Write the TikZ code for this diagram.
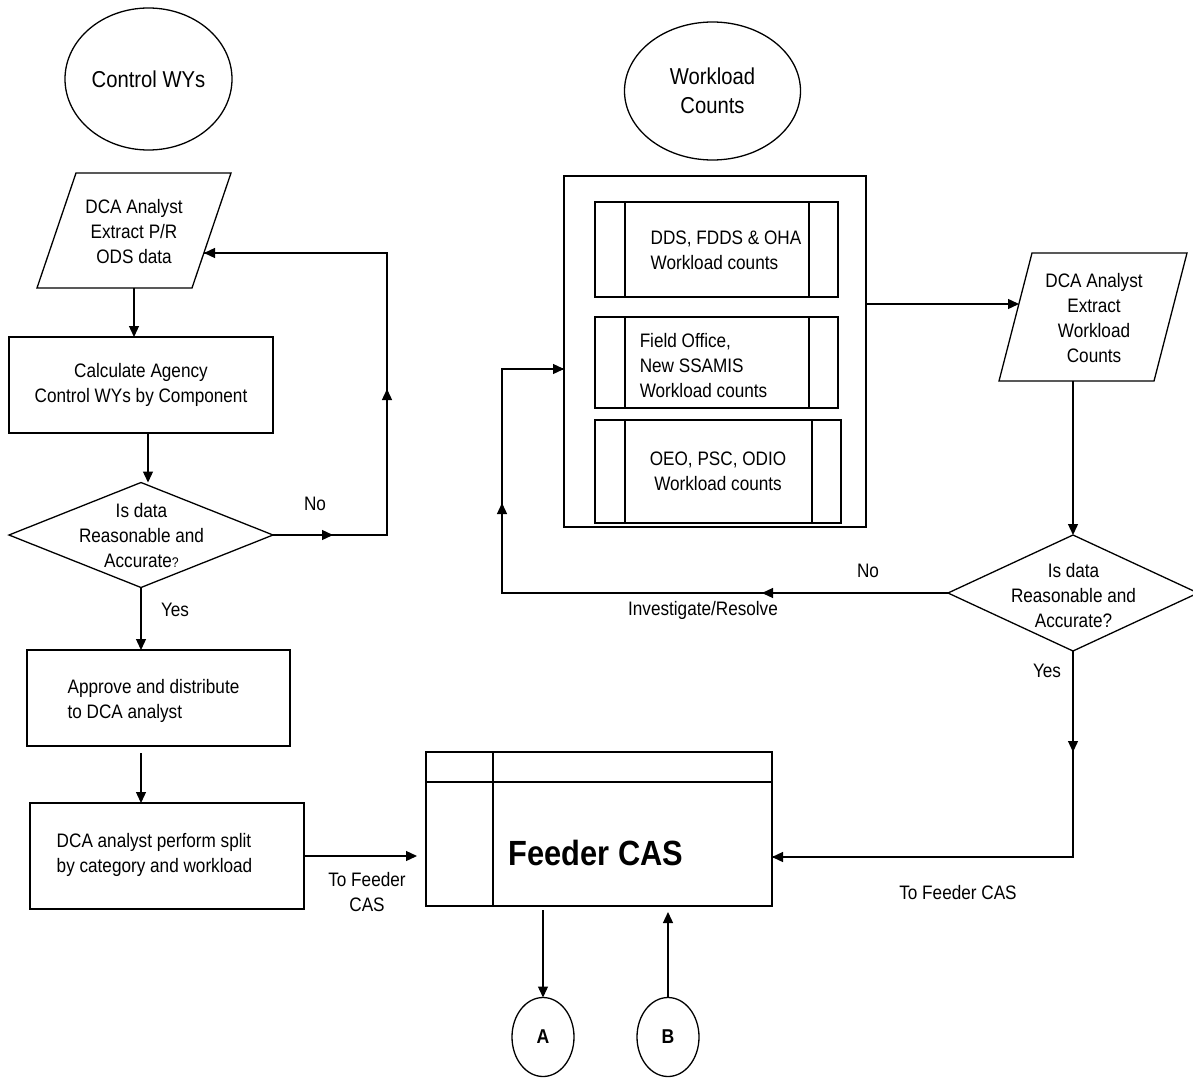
\documentclass[tikz,border=0pt]{standalone}
\usepackage{fontspec}
\setmainfont{Liberation Sans}[FakeStretch=0.88]
\usetikzlibrary{arrows.meta,shapes.geometric}
\begin{document}
\begin{tikzpicture}[x=1pt,y=-1pt,line width=1.3pt,
  font=\fontsize{19.5}{25}\selectfont,
  box/.style={draw, rectangle, inner sep=0, outer sep=0},
  oval/.style={draw, ellipse, inner sep=0, outer sep=0},
  dia/.style={draw, diamond, inner sep=0, outer sep=0},
  txt/.style={inner sep=0, align=center},
  txtl/.style={inner sep=0, align=left},
  arr/.style={-{Triangle[length=11pt,width=10pt]}},
]
\useasboundingbox (0,0) rectangle (1193,1078);

% ---------- left column ----------
\node[oval, minimum width=167, minimum height=142, font=\fontsize{23}{29}\selectfont] (cwy) at (148.5,79) {Control WYs};

\draw (76,173) -- (231,173) -- (192,288) -- (37,288) -- cycle;
\node[txt] (p1) at (134,232) {DCA Analyst\\Extract P/R\\ODS data};
\coordinate (p1s) at (134,288);
\coordinate (p1e) at (204,253);

\node[box, minimum width=264, minimum height=96, align=center] (r1) at (141,385) {Calculate Agency\\Control WYs by Component};

\node[dia, minimum width=264, minimum height=105] (d1) at (141,535) {};
\node[txt] (d1t) at (141.5,536) {Is data\\Reasonable and\\Accurate{\fontsize{14}{14}\selectfont ?}};

\node[box, minimum width=263, minimum height=96] (r2) at (158.5,698) {};
\node[txtl] (r2t) at (153.5,701) {Approve and distribute\\to DCA analyst};

\node[box, minimum width=274, minimum height=106] (r3) at (167,856) {};
\node[txtl] (r3t) at (154.5,854.5) {DCA analyst perform split\\by category and workload};

\node[txt] (yes1) at (175,610) {Yes};
\node[txt] (no1) at (315,504) {No};
\node[txt] (tf1) at (367,892) {To Feeder\\CAS};

% ---------- feeder ----------
\node[box, minimum width=346, minimum height=154] (fc) at (599,829) {};
\draw ([yshift=-30]fc.north west) -- ([yshift=-30]fc.north east);
\draw ([xshift=67]fc.north west) -- ([xshift=67]fc.south west);
\node[txt, font=\bfseries\fontsize{35}{40}\selectfont] (fct) at (596,853) {Feeder CAS};

\node[oval, minimum width=62, minimum height=79, font=\bfseries\fontsize{20}{24}\selectfont] (A) at (543,1037) {A};
\node[oval, minimum width=62, minimum height=79, font=\bfseries\fontsize{20}{24}\selectfont] (B) at (668,1037) {B};

% ---------- right column ----------
\node[oval, minimum width=176, minimum height=138, font=\fontsize{23}{29}\selectfont, align=center] (wlc) at (712.5,91) {Workload\\Counts};

\node[box, minimum width=302, minimum height=351] (wb) at (715,351.5) {};

\node[box, minimum width=243, minimum height=95] (b1) at (716.5,249.5) {};
\draw ([xshift=30]b1.north west) -- ([xshift=30]b1.south west);
\draw ([xshift=-29]b1.north east) -- ([xshift=-29]b1.south east);
\node[txtl] (b1t) at (726,250) {DDS, FDDS \& OHA\\Workload counts};

\node[box, minimum width=243, minimum height=91] (b2) at (716.5,362.5) {};
\draw ([xshift=30]b2.north west) -- ([xshift=30]b2.south west);
\draw ([xshift=-29]b2.north east) -- ([xshift=-29]b2.south east);
\node[txtl] (b2t) at (703.5,366) {Field Office,\\New SSAMIS\\Workload counts};

\node[box, minimum width=246, minimum height=103, align=center] (b3) at (718,471.5) {OEO, PSC, ODIO\\Workload counts};
\draw ([xshift=30]b3.north west) -- ([xshift=30]b3.south west);
\draw ([xshift=-29]b3.north east) -- ([xshift=-29]b3.south east);

\draw (1032,253) -- (1187,253) -- (1154,381) -- (999,381) -- cycle;
\node[txt] (p2) at (1094,318.5) {DCA Analyst\\Extract\\Workload\\Counts};
\coordinate (p2w) at (1019,304);
\coordinate (p2s) at (1073,381);

\node[dia, minimum width=250, minimum height=116] (d2) at (1073,593) {};
\node[txt] (d2t) at (1073.5,596) {Is data\\Reasonable and\\Accurate?};

\node[txt] (no2) at (868,571) {No};
\node[txt] (inv) at (703,610) {Investigate/Resolve};
\node[txt] (yes2) at (1047,671) {Yes};
\node[txt] (tf2) at (958,893) {To Feeder CAS};

% ---------- connectors left ----------
\draw[arr] (p1s) -- (p1s |- r1.north);
\draw[arr] ([xshift=7]r1.south) -- ([xshift=7]r1.south |- d1.north);
\coordinate (n1) at (387,535);
\coordinate (n2) at (387,253);
\coordinate (m1) at (333,535);
\coordinate (m2) at (387,389);
\draw (d1.east) -- (n1) -- (n2) -- (p1e);
\draw[arr] (d1.east) -- (m1);
\draw[arr] (n1) -- (m2);
\draw[arr] (n2) -- (p1e);
\draw[arr] (d1.south) -- (d1.south |- r2.north);
\path (d1.south |- r2.south) ++(0,7) coordinate (g1);
\draw[arr] (g1) -- (g1 |- r3.north);
\draw[arr, shorten >=9pt] (r3.east) -- (r3.east -| fc.west);

% ---------- connectors bottom ----------
\path (A.north |- fc.south) ++(0,4) coordinate (g2);
\draw[arr] (g2) -- (A.north);
\path (B.north |- fc.south) ++(0,6) coordinate (g3);
\draw[arr] (B.north) -- (g3);

% ---------- connectors right ----------
\draw[arr] (wb.east |- p2w) -- (p2w);
\draw[arr] (p2s) -- (d2.north);
\coordinate (n3) at (502,593);
\coordinate (n4) at (502,369);
\coordinate (m3) at (762,593);
\coordinate (m4) at (502,503);
\draw (d2.west) -- (n3) -- (n4) -- (n4 -| wb.west);
\draw[arr] (d2.west) -- (m3);
\draw[arr] (n3) -- (m4);
\draw[arr] (n4) -- (n4 -| wb.west);
\coordinate (n5) at (1073,857);
\coordinate (m5) at (1073,752);
\draw (d2.south) -- (n5) -- (n5 -| fc.east);
\draw[arr] (d2.south) -- (m5);
\draw[arr] (n5) -- (n5 -| fc.east);
\end{tikzpicture}
\end{document}
